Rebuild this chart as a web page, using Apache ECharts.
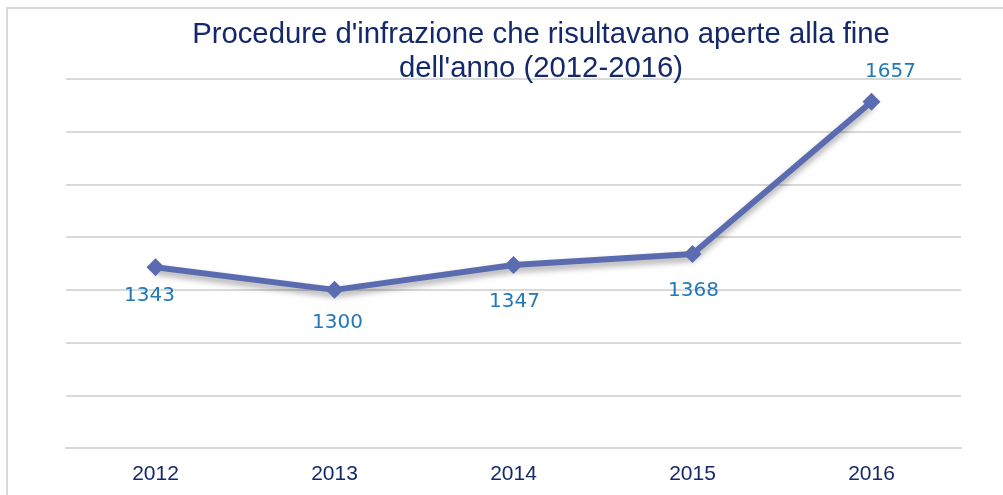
<!DOCTYPE html>
<html>
<head>
<meta charset="utf-8">
<script src="https://cdn.jsdelivr.net/npm/echarts@6/dist/echarts.min.js"></script>
<style>
html, body { margin: 0; padding: 0; background: #fff; }
#chart { width: 1003px; height: 495px; }
</style>
</head>
<body>
<div id="chart"></div>
<script>
// dati
var titleText = "Procedure d'infrazione che risultavano aperte alla fine\ndell'anno (2012-2016)";
var years = ['2012', '2013', '2014', '2015', '2016'];
var openCases = [1343, 1300, 1347, 1368, 1657];

// spostamento etichette (come nell'originale)
var labelPos = ['bottom', 'bottom', 'bottom', 'bottom', 'top'];
var labelShift = [[-6, 5], [3, 9], [1, 13], [1, 13], [19, -6]];

var chart = echarts.init(document.getElementById('chart'));

var seriesData = openCases.map(function (v, i) {
    return {
        value: v,
        label: {
            position: labelPos[i],
            offset: labelShift[i]
        }
    };
});

var option = {
    animation: false,
    title: {
        text: titleText,
        left: 536,
        textAlign: 'center',
        top: 13,
        textStyle: {
            fontFamily: 'Liberation Sans, Arial, sans-serif',
            fontSize: 29.3,
            fontWeight: 'normal',
            color: '#13296b',
            lineHeight: 34
        }
    },
    graphic: [{
        type: 'rect',
        shape: { x: 7, y: 8, width: 1100, height: 600 },
        style: { fill: 'none', stroke: '#d9d9d9', lineWidth: 2 },
        silent: true
    }],
    grid: {
        left: 66,
        right: 42,
        top: 79,
        bottom: 47
    },
    xAxis: {
        type: 'category',
        data: years,
        boundaryGap: true,
        axisTick: { show: false },
        axisLine: { lineStyle: { color: '#d9d9d9', width: 2 } },
        axisLabel: {
            margin: 16,
            fontFamily: 'Liberation Sans, Arial, sans-serif',
            fontSize: 21,
            color: '#13296b'
        }
    },
    yAxis: {
        type: 'value',
        min: 1000,
        max: 1700,
        interval: 100,
        axisLine: { show: false },
        axisTick: { show: false },
        axisLabel: { show: false },
        splitLine: { lineStyle: { color: '#d9d9d9', width: 2 } }
    },
    series: [{
        type: 'line',
        data: seriesData,
        symbol: 'diamond',
        symbolSize: 18,
        itemStyle: { color: '#5b6bb0' },
        lineStyle: {
            color: '#5b6bb0',
            width: 6,
            shadowColor: 'rgba(0,0,0,0.35)',
            shadowBlur: 6,
            shadowOffsetY: 4
        },
        label: {
            show: true,
            distance: 5,
            fontFamily: 'DejaVu Sans, Verdana, sans-serif',
            fontSize: 20,
            color: '#2378b8'
        }
    }]
};

chart.setOption(option);
</script>
</body>
</html>
